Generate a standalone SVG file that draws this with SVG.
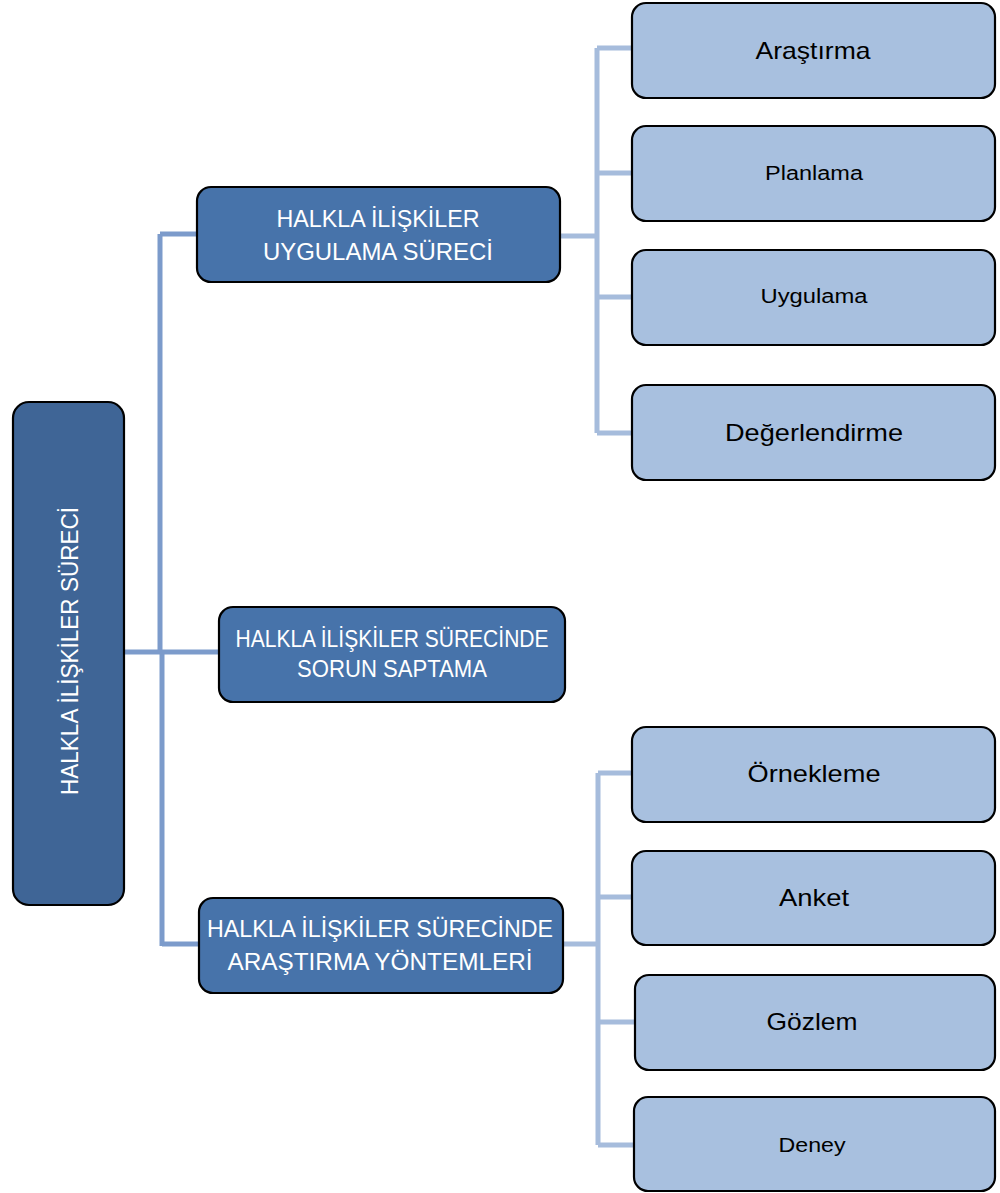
<svg xmlns="http://www.w3.org/2000/svg" width="1000" height="1193" viewBox="0 0 1000 1193">
  <style>
    .box { stroke: #000; stroke-width: 2.2; }
    .root { fill: #3f6596; }
    .mid { fill: #4773aa; }
    .leaf { fill: #a8c0df; }
    .wt { fill: #fff; font-family: "Liberation Sans", Arial, sans-serif; font-size: 24px; text-anchor: middle; }
    .bt { fill: #000; font-family: "Liberation Sans", Arial, sans-serif; text-anchor: middle; }
    .big { font-size: 24px; }
    .small { font-size: 20px; }
    .c1 { fill: none; stroke: #7c9bcb; stroke-width: 5; }
    .c2 { fill: none; stroke: #a6bcdc; stroke-width: 5; }
  </style>

  <!-- connectors -->
  <g id="connectors">
    <path class="c1" d="M124 652 H220 M160 234 V651 M162 653 V946 M160 234 H197 M162 944 H199"/>
    <path class="c2" d="M560 236 H597 M597 48 V433 M597 48 H633 M597 173 H633 M597 297 H633 M597 433 H633"/>
    <path class="c2" d="M563 944 H598 M598 773 V1145 M598 773 H633 M598 897 H633 M598 1022 H636 M598 1145 H635"/>
  </g>

  <!-- root -->
  <g id="node-root">
    <rect class="box root" x="13" y="402" width="111" height="503" rx="16"/>
    <text class="wt" transform="translate(78 651) rotate(-90)" textLength="288" lengthAdjust="spacingAndGlyphs">HALKLA İLİŞKİLER SÜRECİ</text>
  </g>

  <!-- second level -->
  <g id="node-uygulama-sureci">
    <rect class="box mid" x="197" y="187" width="363" height="95" rx="14"/>
    <text class="wt" x="378" y="227" textLength="203" lengthAdjust="spacingAndGlyphs">HALKLA İLİŞKİLER</text>
    <text class="wt" x="378" y="260" textLength="230" lengthAdjust="spacingAndGlyphs">UYGULAMA SÜRECİ</text>
  </g>
  <g id="node-sorun-saptama">
    <rect class="box mid" x="219" y="607" width="346" height="95" rx="14"/>
    <text class="wt" x="392" y="647" textLength="313" lengthAdjust="spacingAndGlyphs">HALKLA İLİŞKİLER SÜRECİNDE</text>
    <text class="wt" x="392" y="677" textLength="190" lengthAdjust="spacingAndGlyphs">SORUN SAPTAMA</text>
  </g>
  <g id="node-arastirma-yontemleri">
    <rect class="box mid" x="199" y="898" width="364" height="95" rx="14"/>
    <text class="wt" x="380" y="937" textLength="346" lengthAdjust="spacingAndGlyphs">HALKLA İLİŞKİLER SÜRECİNDE</text>
    <text class="wt" x="380" y="970" textLength="305" lengthAdjust="spacingAndGlyphs">ARAŞTIRMA YÖNTEMLERİ</text>
  </g>

  <!-- leaves: uygulama süreci -->
  <g id="node-arastirma">
    <rect class="box leaf" x="632" y="3" width="363" height="95" rx="14"/>
    <text class="bt big" x="813" y="59" textLength="115" lengthAdjust="spacingAndGlyphs">Araştırma</text>
  </g>
  <g id="node-planlama">
    <rect class="box leaf" x="632" y="126" width="363" height="95" rx="14"/>
    <text class="bt small" x="814" y="180" textLength="98" lengthAdjust="spacingAndGlyphs">Planlama</text>
  </g>
  <g id="node-uygulama">
    <rect class="box leaf" x="632" y="250" width="363" height="95" rx="14"/>
    <text class="bt small" x="814" y="303" textLength="107" lengthAdjust="spacingAndGlyphs">Uygulama</text>
  </g>
  <g id="node-degerlendirme">
    <rect class="box leaf" x="632" y="385" width="363" height="95" rx="14"/>
    <text class="bt big" x="814" y="441" textLength="178" lengthAdjust="spacingAndGlyphs">Değerlendirme</text>
  </g>

  <!-- leaves: araştırma yöntemleri -->
  <g id="node-ornekleme">
    <rect class="box leaf" x="632" y="727" width="363" height="95" rx="14"/>
    <text class="bt big" x="814" y="782" textLength="133" lengthAdjust="spacingAndGlyphs">Örnekleme</text>
  </g>
  <g id="node-anket">
    <rect class="box leaf" x="632" y="851" width="363" height="94" rx="14"/>
    <text class="bt big" x="814" y="906" textLength="70" lengthAdjust="spacingAndGlyphs">Anket</text>
  </g>
  <g id="node-gozlem">
    <rect class="box leaf" x="635" y="975" width="360" height="95" rx="14"/>
    <text class="bt big" x="812" y="1030" textLength="91" lengthAdjust="spacingAndGlyphs">Gözlem</text>
  </g>
  <g id="node-deney">
    <rect class="box leaf" x="634" y="1097" width="361" height="94" rx="14"/>
    <text class="bt small" x="812" y="1152" textLength="67" lengthAdjust="spacingAndGlyphs">Deney</text>
  </g>
</svg>
